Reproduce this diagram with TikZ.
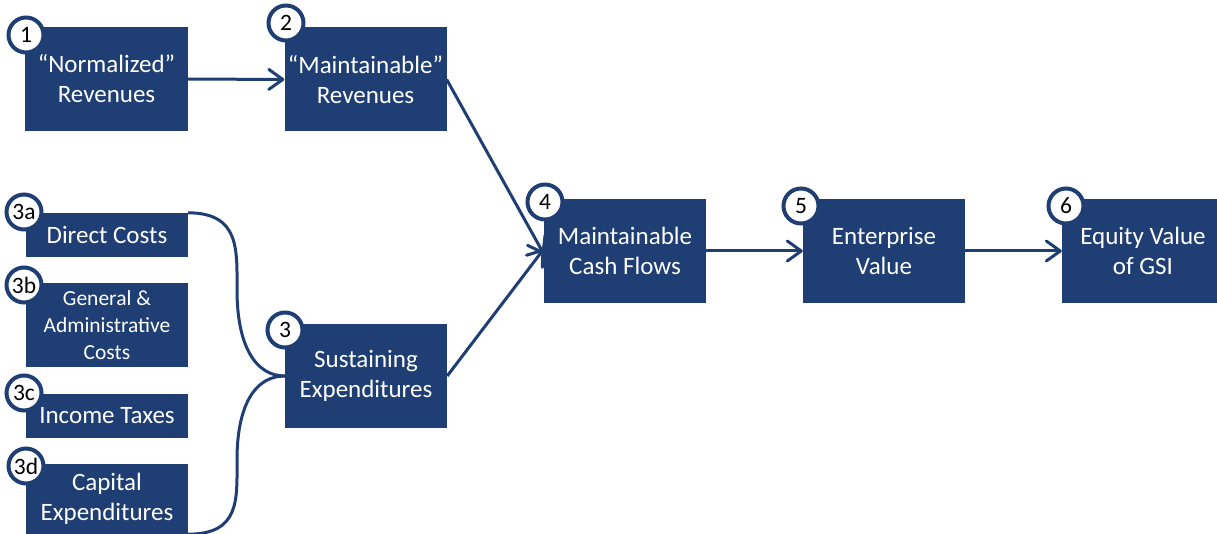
\documentclass[tikz,border=0pt]{standalone}
\usepackage{fontspec}
\setmainfont{Carlito}
\usetikzlibrary{arrows.meta}
\definecolor{navy}{RGB}{31,62,115}
\tikzset{
  box/.style={fill=navy, text=white, minimum width=162bp, inner sep=0pt,
    align=center, font=\fontsize{25bp}{30bp}\selectfont},
  smallbox/.style={box, font=\fontsize{21.5bp}{26.7bp}\selectfont},
  num/.style={circle, draw=navy, line width=4bp, fill=white, text=black,
    minimum size=35bp, inner sep=0pt, font=\fontsize{23.5bp}{23.5bp}\selectfont},
  link/.style={draw=navy, line width=3bp,
    -{Straight Barb[length=14bp,width=20bp,round]}},
  bracearm/.style={draw=navy, line width=3bp},
}
\begin{document}
\begin{tikzpicture}[x=1bp,y=-1bp]
\clip (0,0) rectangle (1217,534);

% main chain
\node[box, minimum height=104bp] (b1) at (106.5,79) {“Normalized”\\Revenues};
\node[box, minimum height=104bp] (b2) at (365.5,79.5) {“Maintainable”\\Revenues};
\node[box, minimum height=104bp] (b3) at (366,376) {Sustaining\\Expenditures};
\node[box, minimum height=104bp] (b4) at (625,251) {Maintainable\\Cash Flows};
\node[box, minimum height=104bp] (b5) at (884,251) {Enterprise\\Value};
\node[box, minimum height=104bp] (b6) at (1143,251) {Equity Value\\of GSI};

% expenditure components
\node[box, minimum height=44bp] (b3a) at (107,235) {Direct Costs};
\node[smallbox, minimum height=84bp] (b3b) at (107,325) {General \&\\Administrative\\Costs};
\node[box, minimum height=44bp] (b3c) at (107,416) {Income Taxes};
\node[box, minimum height=70bp] (b3d) at (107,499) {Capital\\Expenditures};

% arrows
\draw[link] (b1.east) -- (b2.west);
\draw[link] (b2.east) -- ([yshift=-3bp]b4.west);
\draw[link] (b3.east) -- ([yshift=2bp]b4.west);
\draw[link] (b4.east) -- (b5.west);
\draw[link] (b5.east) -- (b6.west);

% brace gathering the components into sustaining expenditures
\coordinate (bu) at (237,290);
\coordinate (bl) at (237,460);
\draw[bracearm] (b3a.north east) .. controls (240,213) and (237,250) .. (bu)
  .. controls (237,345) and (255,376) .. (b3.west);
\draw[bracearm] (b3d.south east) .. controls (240,534) and (237,500) .. (bl)
  .. controls (237,405) and (255,376) .. (b3.west);

% step numbers
\node[num] (n1) at (26,35) {1};
\node[num] (n2) at (286,23) {2};
\node[num] (n3a) at (24,212) {3a};
\node[num] (n3b) at (24,285) {3b};
\node[num] (n3c) at (24,393) {3c};
\node[num] (n3d) at (26,466) {3d};
\node[num] (n3) at (285,330) {3};
\node[num] (n4) at (545,202) {4};
\node[num] (n5) at (801,206) {5};
\node[num] (n6) at (1066,206) {6};
\end{tikzpicture}
\end{document}
